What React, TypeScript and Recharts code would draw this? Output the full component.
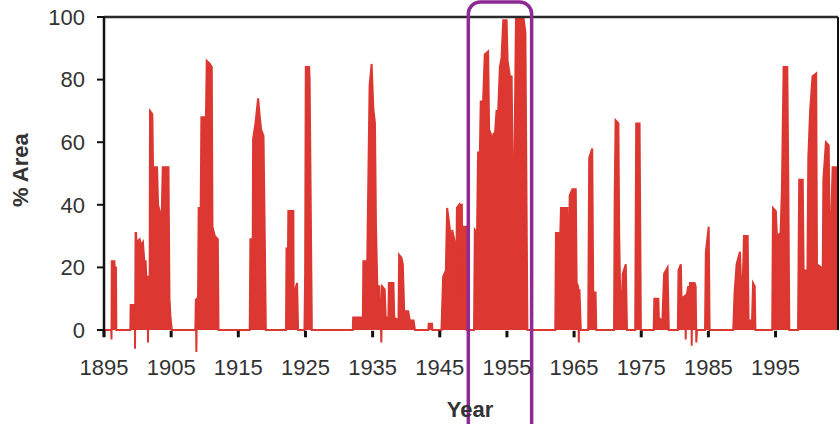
import React from 'react';
import { ComposedChart, Area, XAxis, YAxis, ReferenceLine, ReferenceArea } from 'recharts';

// Year (fractional) of each sample and % area affected
const years: number[] = [
  1895.0, 1896.08, 1896.12, 1896.16, 1896.55, 1896.6, 1896.78, 1896.84,
  1898.92, 1898.97, 1899.58, 1899.62, 1899.7, 1899.78, 1899.82, 1900.3, 1900.55, 1900.8,
  1901.0, 1901.2, 1901.3, 1901.45, 1901.55, 1901.65, 1901.8, 1901.85, 1902.2, 1902.3,
  1902.9, 1903.05, 1903.4, 1903.6, 1903.75, 1904.6, 1904.75, 1904.9, 1905.1,
  1908.6, 1908.68, 1908.75, 1908.85, 1909.0, 1909.1, 1909.4, 1909.5, 1910.0,
  1910.1, 1910.3, 1910.75, 1911.05, 1911.15, 1911.5, 1911.95, 1912.05,
  1916.7, 1916.8, 1917.15, 1917.2, 1917.55, 1917.95, 1918.2, 1918.4, 1918.75, 1918.95, 1919.1,
  1922.1, 1922.18, 1922.4, 1922.45, 1923.2, 1923.25, 1923.35, 1923.75, 1923.9,
  1924.85, 1924.95, 1925.05, 1925.55, 1925.62, 1925.95,
  1932.05, 1932.1, 1933.55, 1933.62, 1934.2, 1934.55, 1934.85, 1935.1, 1935.35, 1935.5,
  1935.7, 1936.0, 1936.2, 1936.3, 1936.4, 1936.8, 1936.95, 1937.35, 1937.42, 1938.1,
  1938.22, 1938.85, 1938.95, 1939.3, 1939.5, 1939.7, 1940.3, 1940.55, 1941.1, 1941.3,
  1943.3, 1943.35, 1943.85, 1943.9,
  1945.25, 1945.5, 1945.9, 1946.1, 1946.4, 1946.6, 1946.72, 1946.85, 1947.25, 1947.4,
  1947.55, 1947.9, 1948.0, 1948.05, 1948.3, 1948.36, 1948.45, 1948.95, 1949.0,
  1950.1, 1950.22, 1950.55, 1950.7, 1950.95, 1951.1, 1951.45, 1951.7, 1952.2, 1952.35,
  1952.7, 1952.9, 1953.0, 1953.2, 1953.45, 1953.7, 1953.95, 1954.2, 1954.45, 1954.95,
  1955.1, 1955.45, 1955.7, 1955.85, 1956.1, 1956.35, 1957.45, 1957.75, 1958.05,
  1962.2, 1962.3, 1962.95, 1963.05, 1964.0, 1964.1, 1964.35, 1964.75, 1965.25, 1965.38,
  1965.6, 1965.7, 1965.8, 1966.0,
  1967.1, 1967.25, 1967.7, 1967.85, 1968.2, 1968.3,
  1970.95, 1971.05, 1971.18, 1971.6, 1971.72, 1971.95, 1972.25, 1972.7, 1972.88,
  1974.1, 1974.25, 1974.75, 1974.95,
  1976.85, 1976.95, 1977.55, 1977.62, 1978.0, 1978.1, 1978.4, 1978.92, 1979.1,
  1980.45, 1980.55, 1980.9, 1981.0, 1981.55, 1981.62, 1981.7, 1982.0, 1982.15, 1982.25,
  1982.45, 1982.52, 1982.6, 1982.95, 1983.1, 1983.2, 1983.3,
  1984.5, 1984.62, 1985.05, 1985.18,
  1988.7, 1988.9, 1989.2, 1989.45, 1989.7, 1989.85, 1990.05, 1990.3, 1990.85, 1990.98,
  1991.5, 1991.65, 1991.9, 1992.0,
  1994.5, 1994.62, 1995.05, 1995.2, 1995.75, 1995.95, 1996.2, 1996.75, 1996.9, 1997.05,
  1998.35, 1998.52, 1999.05, 1999.18, 1999.75, 1999.88, 2000.15, 2000.5, 2001.05, 2001.17,
  2001.75, 2002.02, 2002.12, 2002.5, 2002.92, 2003.1, 2003.5, 2004.3,
];

const areaPct: number[] = [
  0, 0, -3, 22, 22, 20, 20, 0,
  0, 8, 8, -6, 31, 31, 28, 29, 27, 28,
  22, 22, 17, 17, -4, 17, 17, 70, 69, 52,
  52, 40, 37, 37, 52, 52, 10, 4, 0,
  0, 10, -7, 10, 10, 39, 39, 68, 68,
  56, 86, 85, 84, 33, 30, 29, 0,
  0, 29, 29, 61, 66, 74, 68, 64, 62, 28, 0,
  0, 26, 26, 38, 38, 0, 12, 15, 0,
  0, 18, 84, 84, 80, 0,
  0, 4, 4, 22, 22, 78, 85, 71, 66, 33,
  14, 14, 4, -4, 14, 13, 4, 4, 15, 15,
  4, 3, 24, 23, 21, 6, 6, 3, 3, 0,
  0, 2, 2, 0,
  0, 17, 19, 39, 34, 30, 4, 32, 28, 2,
  39, 40, 12, 40, 40, 8, 33, 33, 0,
  0, 32, 31, 57, 53, 73, 73, 88, 89, 64,
  62, 47, 63, 62, 70, 70, 84, 87, 99, 99,
  86, 81, 81, 51, 51, 100, 100, 95, 0,
  0, 31, 31, 39, 39, 5, 43, 45, 45, 15,
  14, -4, 13, 0,
  0, 55, 58, 12, 12, 0,
  0, 43, 67, 66, 30, 0, 18, 21, 0,
  0, 66, 66, 0,
  0, 10, 10, 4, 3, 0, 18, 20, 0,
  0, 19, 21, 10, 11, -3, 10, 14, 9, 15,
  15, -5, 15, 15, 14, -4, 0,
  0, 25, 33, 0,
  0, 12, 21, 23, 25, 16, 10, 30, 30, 3,
  3, 15, 14, 0,
  0, 39, 38, 30, 31, 45, 84, 84, 47, 0,
  0, 48, 48, 19, 19, 55, 70, 81, 82, 21,
  20, 17, 48, 60, 59, 20, 52, 52,
];

const yearTicks = [1895, 1905, 1915, 1925, 1935, 1945, 1955, 1965, 1975, 1985, 1995];
const pctTicks = [0, 20, 40, 60, 80, 100];
const yearDomain = [1895, 2004.3];
const pctDomain = [-10, 100];
const highlightYears = [1949.25, 1958.68];

const data = years.map((year, i) => ({ year, pct: areaPct[i] }));

const FONT = '"Liberation Sans", Arial, sans-serif';
const RED = '#DC3731';
const PURPLE = '#8E2A95';

const YearTick = (props: any) => {
  const { x, y, payload } = props;
  return (
    <g>
      <line x1={x} x2={x} y1={y - 30.5} y2={y - 24} stroke="#111" strokeWidth={3} />
      <text x={x} y={y + 13.5} textAnchor="middle" fontSize={22} fontFamily={FONT} fill="#333">
        {payload.value}
      </text>
    </g>
  );
};

const RoundedBox = (props: any) => {
  const { x, y, width, height } = props;
  return (
    <rect x={x} y={y} width={width} height={height} rx={12} ry={12}
      fill="none" stroke={PURPLE} strokeWidth={3.5} />
  );
};

export default function App() {
  return (
    <div style={{ position: 'absolute', left: 0, top: 0, width: 839, height: 424, background: '#fff' }}>
      <ComposedChart width={839} height={424} data={data}
        margin={{ top: 17, right: 1, bottom: 0, left: 0 }}>
        <XAxis
          dataKey="year" type="number" domain={yearDomain} ticks={yearTicks}
          allowDataOverflow height={62.7} axisLine={false} tickLine={false}
          tickSize={0} tickMargin={0} tick={<YearTick />} interval={0}
          label={{ value: 'Year', position: 'center', dx: -1, dy: 16.5, fontSize: 22,
            fontWeight: 'bold', fill: '#333', fontFamily: FONT }}
        />
        <YAxis
          type="number" domain={pctDomain} ticks={pctTicks} width={104} interval={0}
          axisLine={false} tickLine={{ stroke: '#111', strokeWidth: 2 }} tickSize={7} tickMargin={12}
          tick={{ fontSize: 22, fill: '#333', fontFamily: FONT }}
          label={{ value: '% Area', angle: -90, position: 'center', dx: -32, dy: -19, fontSize: 22,
            fontWeight: 'bold', fill: '#333', fontFamily: FONT }}
        />
        <Area type="linear" dataKey="pct" baseValue={0} stroke={RED} strokeWidth={2}
          fill={RED} fillOpacity={1} dot={false} activeDot={false} isAnimationActive={false} />
        <ReferenceLine y={100} stroke="#2a2a2a" strokeWidth={2.5} ifOverflow="visible" />
        <ReferenceLine segment={[{ x: 1895, y: -2 }, { x: 1895, y: 100 }]} stroke="#111" strokeWidth={2.5} ifOverflow="visible" />
        <ReferenceLine segment={[{ x: 2004.3, y: 0 }, { x: 2004.3, y: 100 }]} stroke="#111" strokeWidth={2} ifOverflow="visible" />
        <ReferenceArea x1={highlightYears[0]} x2={highlightYears[1]} y1={-40} y2={104.8}
          ifOverflow="visible" shape={<RoundedBox />} zIndex={1500} />
      </ComposedChart>
    </div>
  );
}
